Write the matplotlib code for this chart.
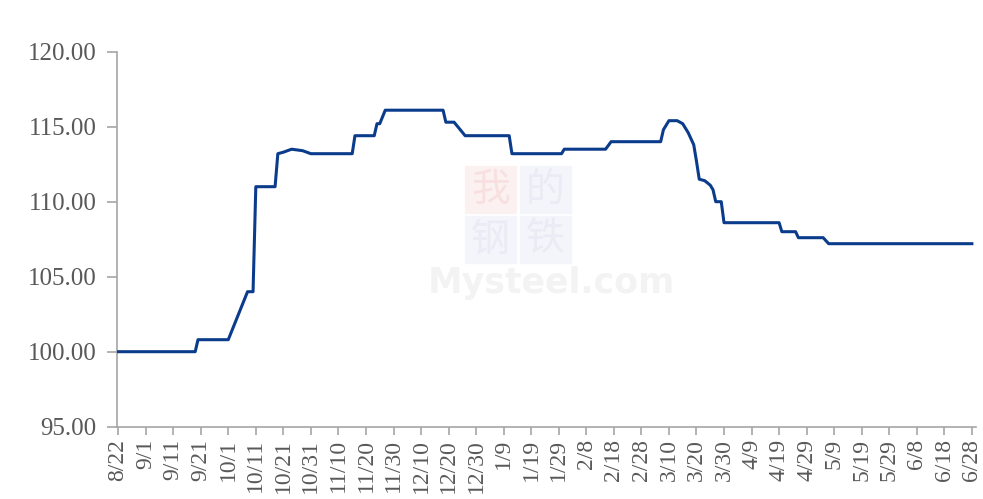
import matplotlib.pyplot as plt
import matplotlib.patches as mpatches
import pandas as pd

# price index (date, value)
DATES = ["2022-08-22", "2022-09-19", "2022-09-20", "2022-10-01", "2022-10-08",
         "2022-10-10", "2022-10-11", "2022-10-18", "2022-10-19", "2022-10-21",
         "2022-10-24", "2022-10-28", "2022-10-31", "2022-11-15", "2022-11-16",
         "2022-11-23", "2022-11-24", "2022-11-25", "2022-11-27", "2022-12-18",
         "2022-12-19", "2022-12-22", "2022-12-26", "2023-01-11", "2023-01-12",
         "2023-01-30", "2023-01-31", "2023-02-15", "2023-02-17", "2023-03-07",
         "2023-03-08", "2023-03-10", "2023-03-13", "2023-03-15", "2023-03-17",
         "2023-03-19", "2023-03-20", "2023-03-21", "2023-03-23", "2023-03-25",
         "2023-03-26", "2023-03-27", "2023-03-29", "2023-03-30", "2023-04-19",
         "2023-04-20", "2023-04-25", "2023-04-26", "2023-05-05", "2023-05-07",
         "2023-06-28"]
VALUES = [100.0, 100.0, 100.8, 100.8, 104.0,
          104.0, 111.0, 111.0, 113.2, 113.3,
          113.5, 113.4, 113.2, 113.2, 114.4,
          114.4, 115.2, 115.2, 116.1, 116.1,
          115.3, 115.3, 114.4, 114.4, 113.2,
          113.2, 113.5, 113.5, 114.0, 114.0,
          114.8, 115.4, 115.4, 115.2, 114.6,
          113.8, 112.7, 111.5, 111.4, 111.1,
          110.8, 110.0, 110.0, 108.6, 108.6,
          108.0, 108.0, 107.6, 107.6, 107.2,
          107.2]

TICK_START = "2022-08-22"
TICK_COUNT = 32
Y_TICKS = [95, 100, 105, 110, 115, 120]

x = pd.to_datetime(DATES)
ticks = pd.date_range(TICK_START, periods=TICK_COUNT, freq="10D")
tick_labels = [f"{d.month}/{d.day}" for d in ticks]

fig = plt.figure(figsize=(9.83, 4.99), dpi=100)
ax = fig.add_axes([0.1193, 0.1449, 0.8736, 0.7515])

# watermark
wm = [("我", 465, 166, "#fcf1f1", "#f8e0e0"), ("的", 520, 166, "#f3f5fa", "#e9ecf4"),
      ("钢", 465, 216, "#f3f5fa", "#e9ecf4"), ("铁", 520, 216, "#f3f5fa", "#e9ecf4")]
for ch, px, py, bg, fg in wm:
    fig.patches.append(mpatches.Rectangle((px / 983, 1 - (py + 47) / 499), 51 / 983, 47 / 499,
                                          transform=fig.transFigure, color=bg, zorder=0))
    fig.text((px + 25.5) / 983, 1 - (py + 23.5) / 499, ch, ha="center", va="center",
             fontsize=28, color=fg, family=["Noto Sans CJK SC"], zorder=0.5)
fig.text(551 / 983, 1 - 283 / 499, "Mysteel.com", ha="center", va="center",
         fontsize=25, fontweight="bold", color="#f3f3f3", family="DejaVu Sans", zorder=0.5)
ax.patch.set_alpha(0)

ax.plot(x, VALUES, color="#0B3C8C", linewidth=2.2, solid_joinstyle="round", zorder=3)

ax.set_ylim(95, 120)
ax.set_yticks(Y_TICKS)
ax.set_yticklabels([f"{v:.2f}" for v in Y_TICKS])
ax.set_xlim(ticks[0] - pd.Timedelta(days=0.3), ticks[-1] + pd.Timedelta(days=1.5))
ax.set_xticks(ticks)
ax.set_xticklabels(tick_labels, rotation=90)

for s in ["top", "right"]:
    ax.spines[s].set_visible(False)
for s in ["left", "bottom"]:
    ax.spines[s].set_color("#a6a6a6")
    ax.spines[s].set_linewidth(1.2)
ax.tick_params(axis="y", direction="out", length=7, width=1.2, color="#a6a6a6",
               labelsize=18, labelcolor="#595959", pad=8)
ax.tick_params(axis="x", direction="out", length=6, width=1.2, color="#a6a6a6",
               labelsize=17, labelcolor="#595959", pad=3)
for lab in ax.get_xticklabels() + ax.get_yticklabels():
    lab.set_family("Liberation Serif")

fig.savefig("out.png", dpi=100)
